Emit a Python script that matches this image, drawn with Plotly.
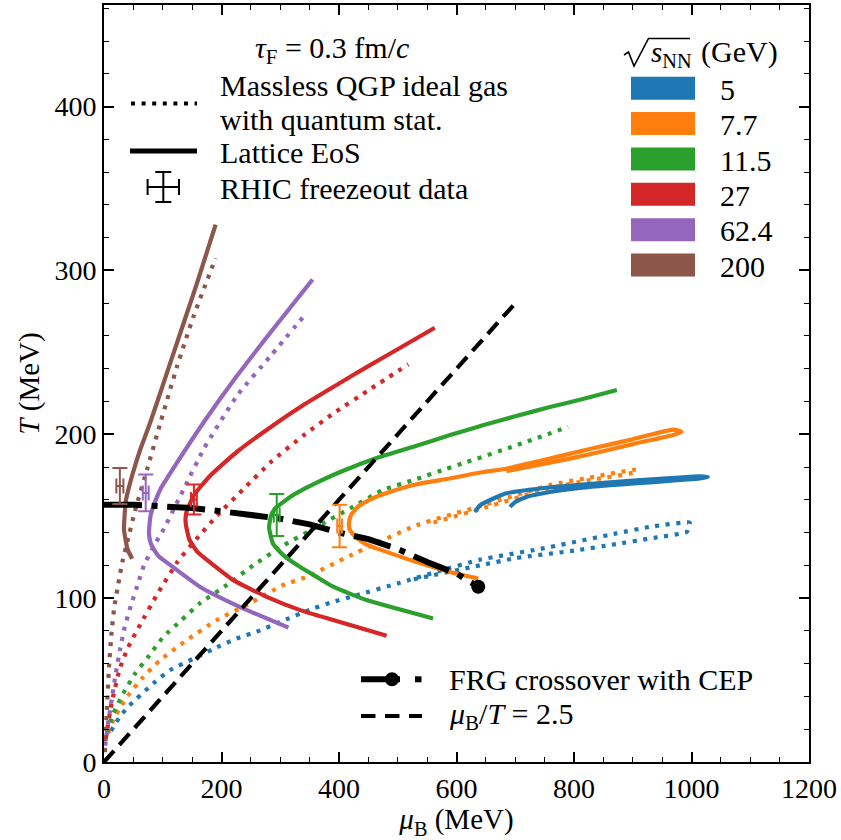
import plotly.graph_objects as go

# ---------------- data ----------------
energies = ["5", "7.7", "11.5", "27", "62.4", "200"]
colors = ["#1f77b4", "#ff7f0e", "#2ca02c", "#d62728", "#9467bd", "#8c564b"]

# Lattice EoS trajectories (solid)
mu_5_lat = [631.5, 640, 663, 685, 742, 799, 912, 1014, 1028, 1014, 912, 827, 759, 719, 700, 691]
T_5_lat = [152.6, 156.7, 160.8, 164, 166.9, 168.9, 172, 174.4, 174, 173, 170.3, 167.9, 164.8, 161.8, 158.7, 155.7]

mu_7_lat = [637, 589, 532, 475, 445, 426, 418, 417, 421, 433, 452, 480, 532, 572, 646, 685, 750, 827, 900, 969, 983, 969, 900, 827, 750, 685]
T_7_lat = [112, 116, 122, 129, 133, 138, 142, 146, 151, 156, 160, 164, 169.5, 172, 177, 179, 184.5, 191, 197, 202.9, 201.4, 199.6, 194, 187.8, 182, 177.5]

mu_11_lat = [560, 447, 390, 362, 334, 306, 288, 281, 284, 292, 301, 318, 340, 362, 402, 464, 532, 589, 645, 700, 759, 820, 873]
T_11_lat = [87.6, 98.8, 107, 113, 119, 126, 133, 143, 150, 155, 157.5, 162, 166.5, 170.5, 177, 185.5, 193, 199.5, 205.5, 211, 216.6, 222, 227]

mu_27_lat = [481, 390, 334, 277, 220, 187, 159, 145, 139, 140, 153, 181.5, 227, 284, 340, 400, 447, 505, 563]
T_27_lat = [77, 86.6, 92.7, 100.8, 111, 120, 128.2, 136, 146, 152, 162.8, 175, 189.5, 204.5, 218, 231, 241, 253, 265]

mu_62_lat = [314, 231, 163, 113.5, 92, 80, 76.6, 77.5, 79.4, 87, 96.4, 124.8, 170, 227, 284, 355]
T_62_lat = [82, 94.7, 107, 120, 126, 133, 139, 145, 150.6, 159, 166.8, 183, 207.5, 236, 262.4, 294.5]

mu_200_lat = [48, 40, 34, 35, 37, 42, 48, 62, 79, 102, 130, 159, 190]
T_200_lat = [124, 130, 142, 150, 159, 167, 175, 191, 207.5, 232, 262, 293, 328]

# Massless QGP ideal gas with quantum statistics (dotted)
mu_5_id = [12, 16, 27, 41, 56, 84, 112, 152, 186, 226, 260, 300, 356, 390, 430, 500, 570, 640, 742, 872, 929, 997, 995, 992, 930, 872, 800, 702, 640, 560, 520]
T_5_id = [19, 21.5, 27.6, 33.7, 38.8, 48, 56, 63, 69, 75.4, 79.5, 85.5, 93.7, 97.7, 101.8, 109, 116.5, 123.5, 130, 139.5, 143.5, 146, 143, 140.4, 136.5, 133, 129, 124.5, 120, 114, 111]

mu_7_id = [7, 16, 30, 44, 67, 95, 141, 192, 248, 305, 345, 419, 532, 646, 759, 827, 907, 900, 827, 759, 646, 550]
T_7_id = [17.5, 25.6, 34.8, 42, 52, 62, 74.4, 86.6, 96.8, 108, 113, 126, 144.5, 156.7, 169, 173.6, 178.5, 176.6, 172, 167.2, 155, 145]

mu_11_id = [5, 16, 33, 53, 75, 101, 132, 163, 209, 254, 300, 362, 420, 475, 530, 583, 617, 700, 790]
T_11_id = [18, 29.7, 42, 54, 64, 76.4, 86.6, 96.8, 108, 120, 131, 143.5, 155, 166, 172.5, 179, 183, 193, 204.5]

mu_27_id = [3, 13, 27, 41, 61, 90, 124.8, 153, 193, 238, 284, 340, 390, 455, 518]
T_27_id = [14, 36, 57, 70, 83.5, 102, 122, 134.3, 150.6, 166.8, 183.1, 199.4, 212.6, 228, 242.7]

mu_62_id = [2, 8, 14, 20, 27, 35, 47, 58, 68, 85, 102, 136, 170, 227, 284, 346]
T_62_id = [10, 26, 40, 54, 68, 82, 97, 109, 120, 132, 142.4, 166.8, 191.2, 223.8, 248, 274.6]

mu_200_id = [1.5, 4.6, 8.5, 13, 17.6, 24, 31.2, 39.7, 53.9, 73.7, 96.4, 124.8, 153, 190]
T_200_id = [6, 30, 58, 79.5, 94.7, 108, 122, 134.3, 154.8, 179, 207.5, 242, 272.6, 307.5]

lat_mu = [mu_5_lat, mu_7_lat, mu_11_lat, mu_27_lat, mu_62_lat, mu_200_lat]
lat_T = [T_5_lat, T_7_lat, T_11_lat, T_27_lat, T_62_lat, T_200_lat]
id_mu = [mu_5_id, mu_7_id, mu_11_id, mu_27_id, mu_62_id, mu_200_id]
id_T = [T_5_id, T_7_id, T_11_id, T_27_id, T_62_id, T_200_id]

# FRG crossover line ending at the CEP
frg_mu = [0, 50, 100, 150, 200, 250, 300, 350, 400, 450, 500, 550, 600, 637]
frg_T = [157, 157, 156, 155, 153, 151, 148.5, 145, 140, 136, 130, 122, 115, 107]

# mu_B / T = 2.5 line
ratio_mu = [0, 700]
ratio = 2.5

# RHIC chemical freeze-out data (7.7, 11.5, 27, 62.4, 200 GeV)
rhic_colors = ["#ff7f0e", "#2ca02c", "#d62728", "#9467bd", "#8c564b"]
rhic_mu = [401, 294, 153, 71, 27]
rhic_mu_err = [4, 5, 5, 5, 6]
rhic_T = [144, 150.8, 160.2, 164.2, 168.5]
rhic_T_err = [13, 12.8, 9.2, 11.2, 11]

FONT = "Liberation Serif"
DOT = "4px,6.6px"

fig = go.Figure()

for i in range(len(energies)):
    fig.add_trace(go.Scatter(x=id_mu[i], y=id_T[i], mode="lines",
                             line=dict(color=colors[i], width=4.2, dash=DOT, shape="spline", smoothing=0.5),
                             showlegend=False, hoverinfo="skip"))
for i in range(len(energies)):
    fig.add_trace(go.Scatter(x=lat_mu[i], y=lat_T[i], mode="lines",
                             line=dict(color=colors[i], width=4.2, shape="spline", smoothing=0.5),
                             showlegend=False, hoverinfo="skip"))

fig.add_trace(go.Scatter(x=ratio_mu, y=[m / ratio for m in ratio_mu], mode="lines",
                         line=dict(color="black", width=4.2, dash="15px,8px"),
                         showlegend=False, hoverinfo="skip"))

fig.add_trace(go.Scatter(x=frg_mu, y=frg_T, mode="lines",
                         line=dict(color="black", width=6, dash="38px,9.6px,6px,9.6px"),
                         showlegend=False, hoverinfo="skip"))
fig.add_trace(go.Scatter(x=frg_mu[-1:], y=frg_T[-1:], mode="markers",
                         marker=dict(color="black", size=14),
                         showlegend=False, hoverinfo="skip"))

for i in range(len(rhic_mu)):
    fig.add_trace(go.Scatter(
        x=[rhic_mu[i]], y=[rhic_T[i]], mode="markers",
        marker=dict(size=1, color="rgba(0,0,0,0)"),
        error_x=dict(type="data", array=[rhic_mu_err[i]], color=rhic_colors[i], thickness=2, width=7.5),
        error_y=dict(type="data", array=[rhic_T_err[i]], color=rhic_colors[i], thickness=2, width=7.5),
        showlegend=False, hoverinfo="skip"))

# ---------------- legends drawn in paper coordinates ----------------
X0, X1, Y0, Y1 = 104, 809, 5, 762


def px(p):
    return (p - X0) / (X1 - X0)


def py(p):
    return (Y1 - p) / (Y1 - Y0)


shapes = []
annotations = []


def hline(x0, x1, y, width, dash="solid", color="black"):
    shapes.append(dict(type="line", xref="paper", yref="paper", x0=px(x0), x1=px(x1), y0=py(y), y1=py(y),
                       line=dict(color=color, width=width, dash=dash)))


def vline(x, y0, y1, width, color="black"):
    shapes.append(dict(type="line", xref="paper", yref="paper", x0=px(x), x1=px(x), y0=py(y0), y1=py(y1),
                       line=dict(color=color, width=width)))


def text(x, y, s, size=30, xanchor="left"):
    annotations.append(dict(xref="paper", yref="paper", x=px(x), y=py(y), text=s, showarrow=False,
                            xanchor=xanchor, yanchor="middle", font=dict(family=FONT, size=size, color="black")))


# top-left legend
text(332, 50, "<i>τ</i><sub>F</sub> = 0.3 fm/<i>c</i>", xanchor="center")
hline(131, 197, 103.5, 4.2, DOT)
text(218, 86, "Massless QGP ideal gas")
text(218, 119, "with quantum stat.")
hline(130, 197, 151, 5)
text(218, 152, "Lattice EoS")
cx, cy = 163.3, 187
vline(cx, cy - 15, cy + 15, 2)
hline(cx - 15.7, cx + 15.7, cy, 2)
hline(cx - 8, cx + 8, cy - 15, 2)
hline(cx - 8, cx + 8, cy + 15, 2)
vline(cx - 15.7, cy - 8, cy + 8, 2)
vline(cx + 15.7, cy - 8, cy + 8, 2)
text(218, 188, "RHIC freezeout data")

# top-right legend (title with a drawn radical)
shapes.append(dict(type="path", xref="paper", yref="paper",
                   path="M {:.5f},{:.5f} L {:.5f},{:.5f} L {:.5f},{:.5f} L {:.5f},{:.5f} L {:.5f},{:.5f}".format(
                       px(624), py(55), px(628.5), py(52), px(634), py(66), px(648.5), py(38.5), px(690), py(38.5)),
                   line=dict(color="black", width=1.6)))
text(649, 54, "<i>s</i><sub>NN</sub>", size=29)
text(699, 52, "(GeV)")
patch_y = [88.3, 123.6, 159, 194.3, 229.7, 265.1]
for i, lab in enumerate(energies):
    shapes.append(dict(type="rect", xref="paper", yref="paper", x0=px(631), x1=px(695),
                       y0=py(patch_y[i] - 11.5), y1=py(patch_y[i] + 11.5),
                       fillcolor=colors[i], line=dict(width=0)))
    text(718, patch_y[i] + 1, lab)

# bottom-right legend
hline(361, 400, 679.3, 6)
shapes.append(dict(type="circle", xref="paper", yref="paper", x0=px(385), x1=px(399), y0=py(672.3), y1=py(686.3),
                   fillcolor="black", line=dict(width=0)))
hline(415, 421.5, 679.3, 6)
text(447, 679, "FRG crossover with CEP")
hline(361, 422, 716, 4.2, "14.5px,9.5px")
text(447, 716, "<i>μ</i><sub>B</sub>/<i>T</i> = 2.5")

axis_common = dict(showline=True, linecolor="black", linewidth=1.8, mirror="allticks",
                   ticks="inside", ticklen=10, tickwidth=1.5, tickcolor="black",
                   showgrid=False, zeroline=False, tickmode="array",
                   tickfont=dict(family=FONT, size=28, color="black"))

fig.update_layout(
    width=841, height=840,
    margin=dict(l=X0, r=841 - X1, t=Y0, b=840 - Y1, autoexpand=False),
    paper_bgcolor="white", plot_bgcolor="white",
    xaxis=dict(range=[0, 1200], tickvals=[0, 200, 400, 600, 800, 1000, 1200],
               minor=dict(dtick=50, ticklen=5, tickwidth=1.2, ticks="inside", tickcolor="black"),
               title=dict(text="<i>μ</i><sub>B</sub> (MeV)", font=dict(family=FONT, size=29, color="black"), standoff=4),
               **axis_common),
    yaxis=dict(range=[0, 462], tickvals=[0, 100, 200, 300, 400],
               minor=dict(dtick=20, ticklen=5, tickwidth=1.2, ticks="inside", tickcolor="black"),
               title=dict(text="<i>T</i> (MeV)", font=dict(family=FONT, size=29, color="black"), standoff=6),
               **axis_common),
    shapes=shapes, annotations=annotations,
)

fig.write_html("out.html")
